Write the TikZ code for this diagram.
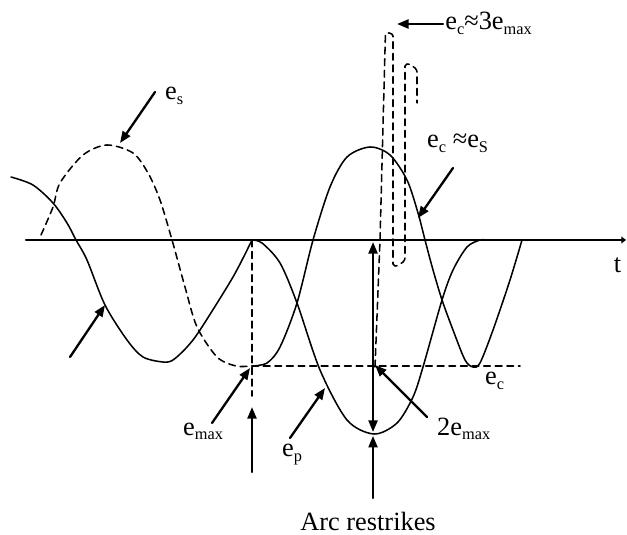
\documentclass[tikz,border=0pt]{standalone}
\usepackage{fontspec}
\setmainfont{Liberation Serif}
\usetikzlibrary{arrows.meta}
\newcommand{\lowsub}[1]{\raisebox{-4pt}{\fontsize{15.5}{16}\selectfont #1}}
\tikzset{
	wave/.style={line width=1.45pt},
	guide/.style={line width=1.45pt, dash pattern=on 6.5pt off 4.5pt},
	pointer/.style={line width=2.2pt, -{Triangle[length=11pt,width=8.5pt]}},
	lbl/.style={font=\fontsize{25}{30}\selectfont, inner sep=0pt, anchor=base west},
}
\begin{document}
\begin{tikzpicture}[scale=1, line join=round, line cap=round]
	\useasboundingbox (-0.867,-9.833) rectangle (20.033,8.0);
	\draw[line width=2pt, -{Triangle[length=4.5pt,width=6.5pt]}] (0,0) -- (20.0,0);
	\draw[wave] plot[smooth] coordinates {(-0.5,2.1) (0.233,1.833) (0.9,1.233) (1.367,0.567) (1.667,0) (2.033,-0.667) (2.633,-2.167) (3.367,-3.333) (3.9,-3.9) (4.567,-4.067) (4.9,-4.0) (5.367,-3.567) (5.8,-3.0) (6.9,-1.233) (7.533,0)};
	\draw[wave] plot[smooth] coordinates {(7.533,0) (7.867,-0.1) (8.467,-0.767) (9.033,-2.1) (9.8,-4.333) (10.7,-6.0) (11.6,-6.467) (12.367,-6.1) (12.9,-5.233) (13.233,-4.233) (13.867,-2.0) (14.233,-1.0) (14.7,-0.233) (15.133,0) (15.3,0)};
	\draw[wave] plot[smooth] coordinates {(7.533,-4.2) (8.033,-4.1) (8.467,-3.567) (9.033,-2.1) (9.567,0) (10.133,1.767) (10.7,2.767) (11.467,3.1) (12.133,2.833) (12.7,2.0) (13.067,0.9) (13.3,0) (13.567,-1.0) (13.867,-2.0) (14.233,-3.0) (14.633,-4.0) (14.9,-4.233) (15.133,-4.1) (15.567,-3.0) (16.133,-1.333) (16.533,0)};
	\draw[guide] plot[smooth] coordinates {(0.5,0.167) (0.9,1.1) (1.133,1.9) (1.9,2.833) (2.7,3.167) (3.567,2.9) (4.067,2.233) (4.467,1.333) (4.867,0) (5.3,-1.567) (5.7,-2.9) (6.367,-3.9) (7.0,-4.2) (7.533,-4.2)} -- (16.467,-4.2);
	\draw[guide] (7.533,0) -- (7.533,-5.2);
	\draw[guide] (11.633,-4.233) -- (11.8,0) -- (11.98,6.85) to[out=85,in=90] (12.233,6.8) -- (12.233,-0.8) to[out=-90,in=-90] (12.633,-0.6) -- (12.633,5.8) to[out=90,in=90] (13.033,5.6) -- (13.033,4.567);
	\coordinate (esTail) at (4.3,4.933);
	\coordinate (esTip) at (3.133,3.233);
	\coordinate (leftTail) at (1.467,-3.9);
	\coordinate (leftTip) at (2.633,-2.167);
	\coordinate (emaxTail) at (6.2,-6.1);
	\coordinate (emaxTip) at (7.467,-4.267);
	\coordinate (upTail) at (7.533,-7.733);
	\coordinate (upTip) at (7.533,-5.567);
	\coordinate (epTail) at (8.8,-6.6);
	\coordinate (epTip) at (9.967,-4.933);
	\coordinate (twoTail) at (13.367,-5.9);
	\coordinate (twoTip) at (11.633,-4.167);
	\coordinate (arcTail) at (11.567,-8.6);
	\coordinate (arcTip) at (11.567,-6.53);
	\coordinate (dblTop) at (11.567,-0.067);
	\coordinate (dblBot) at (11.567,-6.4);
	\coordinate (threeTail) at (13.9,7.2);
	\coordinate (threeTip) at (12.367,7.2);
	\coordinate (approxTail) at (14.233,2.4);
	\coordinate (approxTip) at (13.067,0.733);
	\draw[pointer] (esTail) -- (esTip);
	\draw[pointer] (leftTail) -- (leftTip);
	\draw[pointer] (emaxTail) -- (emaxTip);
	\draw[pointer] (upTail) -- (upTip);
	\draw[pointer] (epTail) -- (epTip);
	\draw[pointer] (twoTail) -- (twoTip);
	\draw[pointer] (arcTail) -- (arcTip);
	\draw[pointer, {Triangle[length=11pt,width=8.5pt]}-{Triangle[length=11pt,width=8.5pt]}] (dblTop) -- (dblBot);
	\draw[pointer] (threeTail) -- (threeTip);
	\draw[pointer] (approxTail) -- (approxTip);
	\node[lbl] (esLbl) at (4.633,4.667) {e\lowsub{s}};
	\node[lbl] (threeLbl) at (13.97,7.0) {e\lowsub{c}≈3e\lowsub{max}};
	\node[lbl] (approxLbl) at (13.367,3.067) {e\lowsub{c} ≈e\lowsub{S}};
	\node[lbl, anchor=base] (tLbl) at (19.72,-1.1) {t};
	\node[lbl] (ecLbl) at (15.3,-4.833) {e\lowsub{c}};
	\node[lbl] (twoLbl) at (13.7,-6.5) {2e\lowsub{max}};
	\node[lbl] (epLbl) at (8.53,-7.233) {e\lowsub{p}};
	\node[lbl] (emaxLbl) at (5.233,-6.5) {e\lowsub{max}};
	\node[lbl, anchor=base] (arcLbl) at (11.4,-9.667) {Arc restrikes};
\end{tikzpicture}
\end{document}
